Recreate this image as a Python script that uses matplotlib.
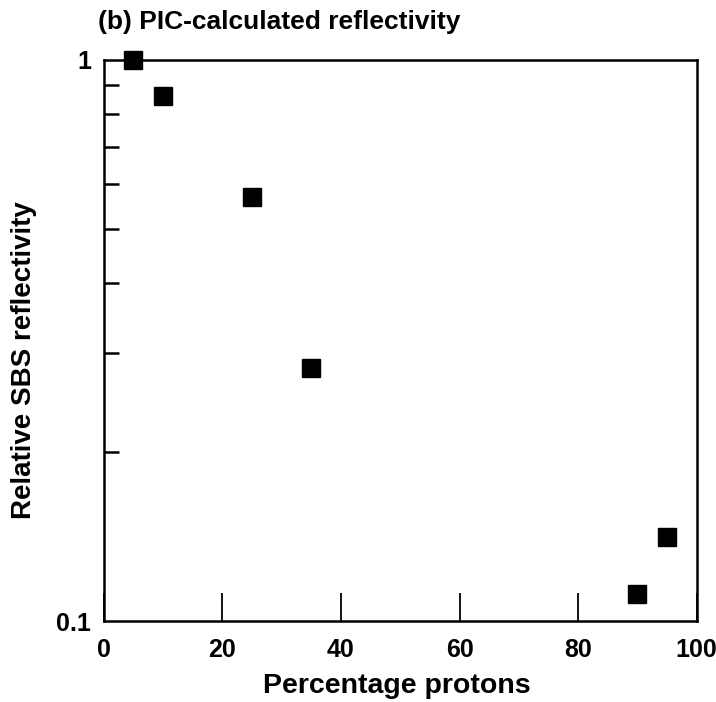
import matplotlib
matplotlib.use("Agg")
import matplotlib.pyplot as plt
from matplotlib.ticker import FixedLocator, NullFormatter

plt.rcParams["font.family"] = ["Liberation Sans", "DejaVu Sans"]
plt.rcParams["font.weight"] = "bold"

# data
proton_pct = [5, 10, 25, 35, 90, 95]
reflectivity = [1.0, 0.86, 0.57, 0.283, 0.112, 0.141]

x_ticks = [0, 20, 40, 60, 80, 100]
y_major = [0.1, 1]
y_major_labels = ["0.1", "1"]
y_minor = [0.2, 0.3, 0.4, 0.5, 0.6, 0.7, 0.8, 0.9]

fig = plt.figure(figsize=(7.16, 7.02), dpi=100)
ax = fig.add_axes([0.145, 0.115, 0.828, 0.8])

ax.plot(proton_pct, reflectivity, "s", color="black", markersize=13.5,
        clip_on=False, zorder=5)

ax.set_yscale("log")
ax.set_xlim(0, 100)
ax.set_ylim(0.1, 1)

ax.set_xticks(x_ticks)
ax.set_xticklabels([str(t) for t in x_ticks], fontsize=18, fontweight="bold")
ax.yaxis.set_major_locator(FixedLocator(y_major))
ax.set_yticklabels(y_major_labels, fontsize=18, fontweight="bold")
ax.yaxis.set_minor_locator(FixedLocator(y_minor))
ax.yaxis.set_minor_formatter(NullFormatter())

ax.tick_params(axis="x", which="major", direction="in", length=20, width=1.3,
               pad=12, top=False)
ax.tick_params(axis="y", which="major", direction="in", length=0, pad=9,
               right=False)
ax.tick_params(axis="y", which="minor", direction="in", length=11, width=1.8,
               right=False)
ax.tick_params(axis="x", which="minor", bottom=False, top=False)

for s in ax.spines.values():
    s.set_linewidth(1.8)

fig.text(397 / 716, 1 - 686 / 702, "Percentage protons", fontsize=20.5,
         fontweight="bold", ha="center", va="center")
fig.text(24 / 716, 1 - 360 / 702, "Relative SBS reflectivity", fontsize=20,
         fontweight="bold", ha="center", va="center", rotation=90)
fig.text(98 / 716, 1 - 22 / 702, "(b) PIC-calculated reflectivity", fontsize=19,
         fontweight="bold", ha="left", va="center")

fig.savefig("out.png", dpi=100)
